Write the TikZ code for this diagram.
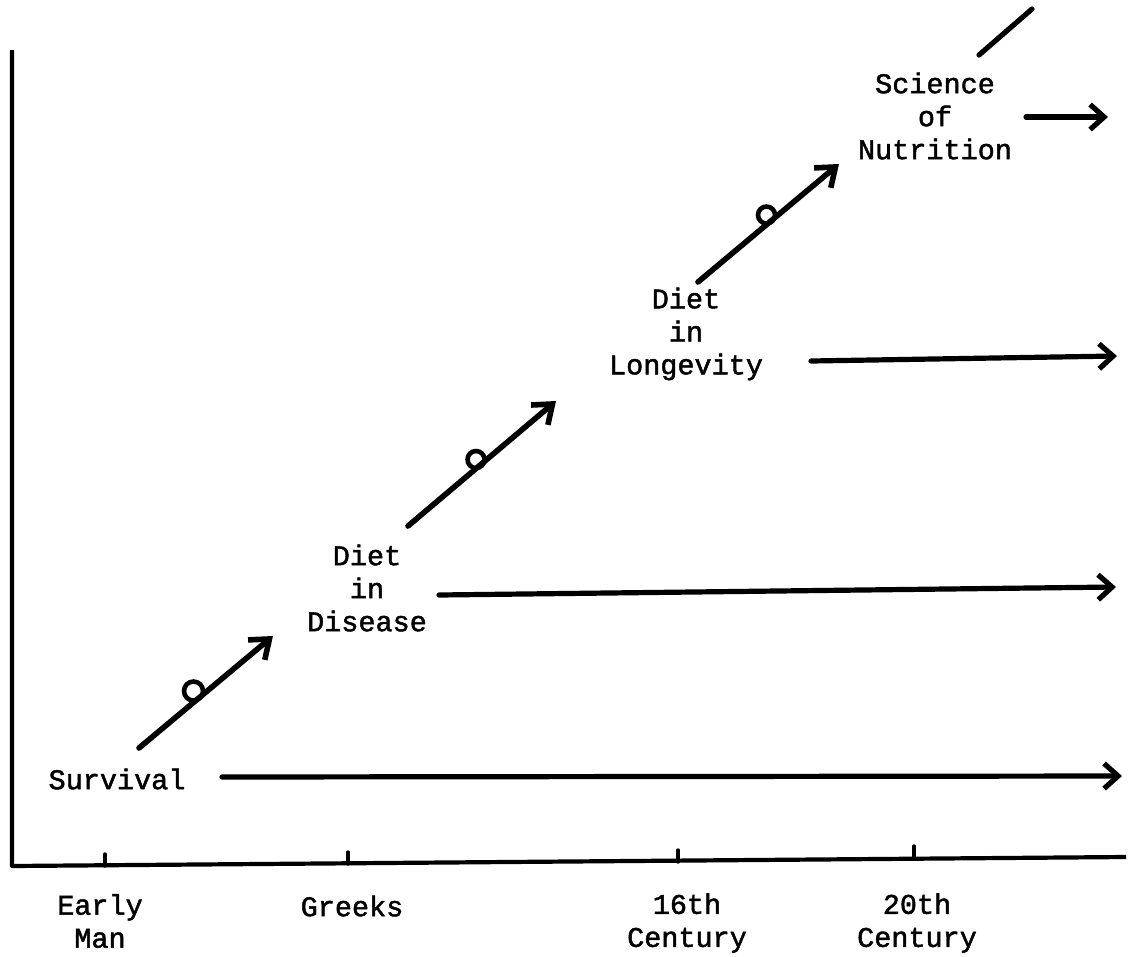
\documentclass[tikz,border=0pt]{standalone}
\usepackage{fontspec}
\setmainfont{Liberation Mono}[FakeBold=1.6]
\usetikzlibrary{arrows.meta}
\begin{document}
\begin{tikzpicture}[x=1pt,y=-1pt,
  lbl/.style={align=center,font=\fontsize{28.5}{33}\selectfont,inner sep=0pt},
  ink/.style={line width=5.2pt,line cap=round,line join=round},
  arr/.style={ink,-{Straight Barb[length=14pt,width=25pt,line width=5.2pt]}},
  darr/.style={ink,line width=5.6pt,-{Straight Barb[length=17pt,width=26pt,line width=5.6pt]}},
  curl/.style={line width=4.6pt}]
\useasboundingbox (0,0) rectangle (1129,956);
% axes
\coordinate (top) at (12,50);
\coordinate (org) at (12,866);
\coordinate (xend) at (1126,857);
\draw[ink,line width=4.2pt,line cap=butt] (top) -- (org) -- (xend);
% ticks
\foreach \x/\ya/\yb in {105/854/866, 348/852/864, 678/850/862, 914/846/859}
  \draw[ink,line width=3.4pt] (\x,\ya) -- (\x,\yb);
% axis labels
\node[lbl] (early) at (100,921) {Early\\Man};
\node[lbl] (greeks) at (352,906) {Greeks};
\node[lbl] (c16) at (687,923) {16th\\Century};
\node[lbl] (c20) at (917,923) {20th\\Century};
% stage labels
\node[lbl] (surv) at (117,779) {Survival};
\node[lbl] (dis) at (367,588) {Diet\\in\\Disease};
\node[lbl] (lon) at (686,334) {Diet\\in\\Longevity};
\node[lbl] (nut) at (935,116) {Science\\of\\Nutrition};
% horizontal arrows
\coordinate (s1) at (222,777); \coordinate (s2) at (1122,776);
\coordinate (d1) at (439,595); \coordinate (d2) at (1116,587);
\coordinate (l1) at (811,361); \coordinate (l2) at (1117,356);
\coordinate (n1) at (1026,117); \coordinate (n2) at (1108,117);
\draw[arr] (s1) -- (s2);
\draw[arr] (d1) -- (d2);
\draw[arr] (l1) -- (l2);
\draw[arr] (n1) -- (n2);
% diagonal arrows with curls
\coordinate (a1) at (139,748); \coordinate (b1) at (273,636);
\draw[darr] (a1) -- (b1);
\draw[curl] (193.5,691) circle (9.5);
\coordinate (a2) at (408,526); \coordinate (b2) at (556,401);
\draw[darr] (a2) -- (b2);
\draw[curl] (476,459.5) circle (8.5);
\coordinate (a3) at (698,282); \coordinate (b3) at (839,164);
\draw[darr] (a3) -- (b3);
\draw[curl] (766.5,215) circle (8.5);
\coordinate (a4) at (979,55); \coordinate (b4) at (1032,9);
\draw[ink] (a4) -- (b4);
\end{tikzpicture}
\end{document}
